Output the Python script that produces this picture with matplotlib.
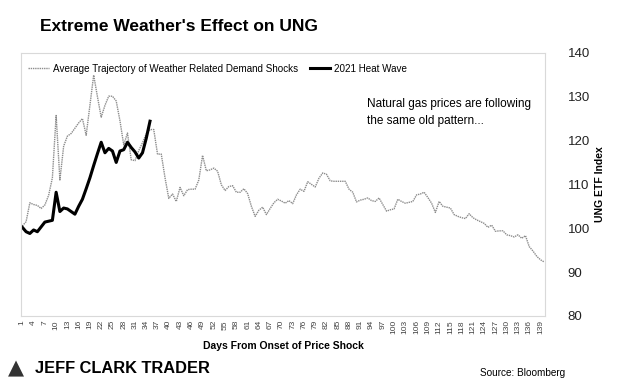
import numpy as np
import matplotlib.pyplot as plt

plt.rcParams['font.family'] = ['Liberation Sans', 'DejaVu Sans']

# average trajectory of weather related demand shocks (days 1..140)
avg_shock = [
    100.5, 101.5, 105.8, 105.4, 105.2, 104.5, 105.3, 107.5, 111.5, 125.7,
    111.0, 118.7, 121.0, 121.6, 122.8, 124.0, 125.0, 121.2, 128.0, 134.9,
    130.0, 125.3, 128.0, 130.1, 130.1, 129.0, 124.5, 119.0, 121.7, 115.6,
    115.4, 117.7, 119.5, 121.5, 122.5, 122.5, 116.9, 116.9, 111.5, 106.8,
    107.8, 106.1, 109.3, 107.4, 108.8, 108.9, 108.9, 111.0, 116.6, 113.1,
    113.3, 113.7, 113.0, 109.9, 108.6, 109.5, 109.7, 108.2, 108.2, 109.0,
    107.9, 105.0, 102.7, 104.1, 104.8, 103.1, 104.5, 105.8, 106.6, 106.2,
    105.7, 106.3, 105.6, 107.6, 108.9, 108.4, 110.6, 110.0, 109.4, 111.4,
    112.6, 112.3, 110.8, 110.7, 110.7, 110.7, 110.7, 108.9, 108.2, 106.0,
    106.4, 106.6, 106.9, 106.3, 106.1, 106.9, 105.4, 103.9, 104.2, 104.4,
    106.6, 106.1, 105.7, 105.9, 106.1, 107.6, 107.8, 108.2, 107.0, 105.7,
    103.6, 106.1, 105.0, 104.8, 104.6, 103.1, 102.7, 102.4, 102.2, 103.3,
    102.4, 101.9, 101.5, 101.1, 100.2, 100.7, 99.3, 99.4, 99.4, 98.5,
    98.3, 98.0, 98.5, 97.7, 98.3, 95.8, 94.8, 93.6, 92.8, 92.3,
]

# 2021 heat wave (days 1..35)
heat_wave = [
    100.2, 99.2, 98.8, 99.6, 99.2, 100.3, 101.4, 101.6, 101.8, 108.2,
    103.8, 104.6, 104.4, 103.8, 103.2, 105.0, 106.6, 109.0, 111.5, 114.3,
    117.0, 119.6, 117.2, 118.2, 117.6, 115.0, 117.6, 117.9, 119.6, 118.4,
    117.4, 116.0, 117.2, 120.5, 124.4,
]

days_avg = np.arange(1, len(avg_shock) + 1)
days_hw = np.arange(1, len(heat_wave) + 1)
y_ticks = [80, 90, 100, 110, 120, 130, 140]

fig = plt.figure(figsize=(6.24, 3.91), dpi=100)
ax = fig.add_axes([0.034, 0.192, 0.84, 0.673])

ax.plot(days_avg, avg_shock, color='#8c8c8c', linestyle=(0, (1, 0.6)), linewidth=1.0,
        label='Average Trajectory of Weather Related Demand Shocks')
ax.plot(days_hw, heat_wave, color='black', linewidth=2.2, label='2021 Heat Wave')

ax.set_xlim(0.7, 140.3)
ax.set_ylim(80, 140)

ax.yaxis.tick_right()
ax.yaxis.set_label_position('right')
ax.set_yticks(y_ticks)
ax.tick_params(axis='y', length=0, pad=16, labelsize=9.5, labelcolor='#222222')
ax.set_ylabel('UNG ETF Index', fontsize=7.5, fontweight='bold', labelpad=4)

xt = np.arange(1, 141, 3)
ax.set_xticks(xt)
ax.set_xticklabels([str(v) for v in xt], rotation=90, fontsize=6, color='#444444')
ax.tick_params(axis='x', length=0, pad=3)
ax.set_xlabel('Days From Onset of Price Shock', fontsize=7.5, fontweight='bold', labelpad=5)

for s in ax.spines.values():
    s.set_color('#d9d9d9')
    s.set_linewidth(0.8)

ax.legend(loc='upper left', ncol=2, frameon=False, fontsize=7.1, handlelength=2.1,
          columnspacing=1.2, handletextpad=0.4, borderaxespad=0.3,
          bbox_to_anchor=(0.0, 0.985))

ax.text(0.66, 0.83, 'Natural gas prices are following\nthe same old pattern...',
        transform=ax.transAxes, fontsize=8.5, va='top', ha='left', linespacing=1.6)

fig.text(0.064, 0.933, "Extreme Weather's Effect on UNG", fontsize=12.5, fontweight='bold',
         va='center', ha='left')

fig.text(0.013, 0.058, '\u25B2', fontsize=15, color='#333333', va='center', ha='left',
         family='DejaVu Sans')
fig.text(0.056, 0.058, 'JEFF CLARK TRADER', fontsize=11.8, fontweight='heavy', va='center',
         ha='left')
fig.text(0.905, 0.045, 'Source: Bloomberg', fontsize=7.2, va='center', ha='right')

fig.savefig('out.png', dpi=100)
